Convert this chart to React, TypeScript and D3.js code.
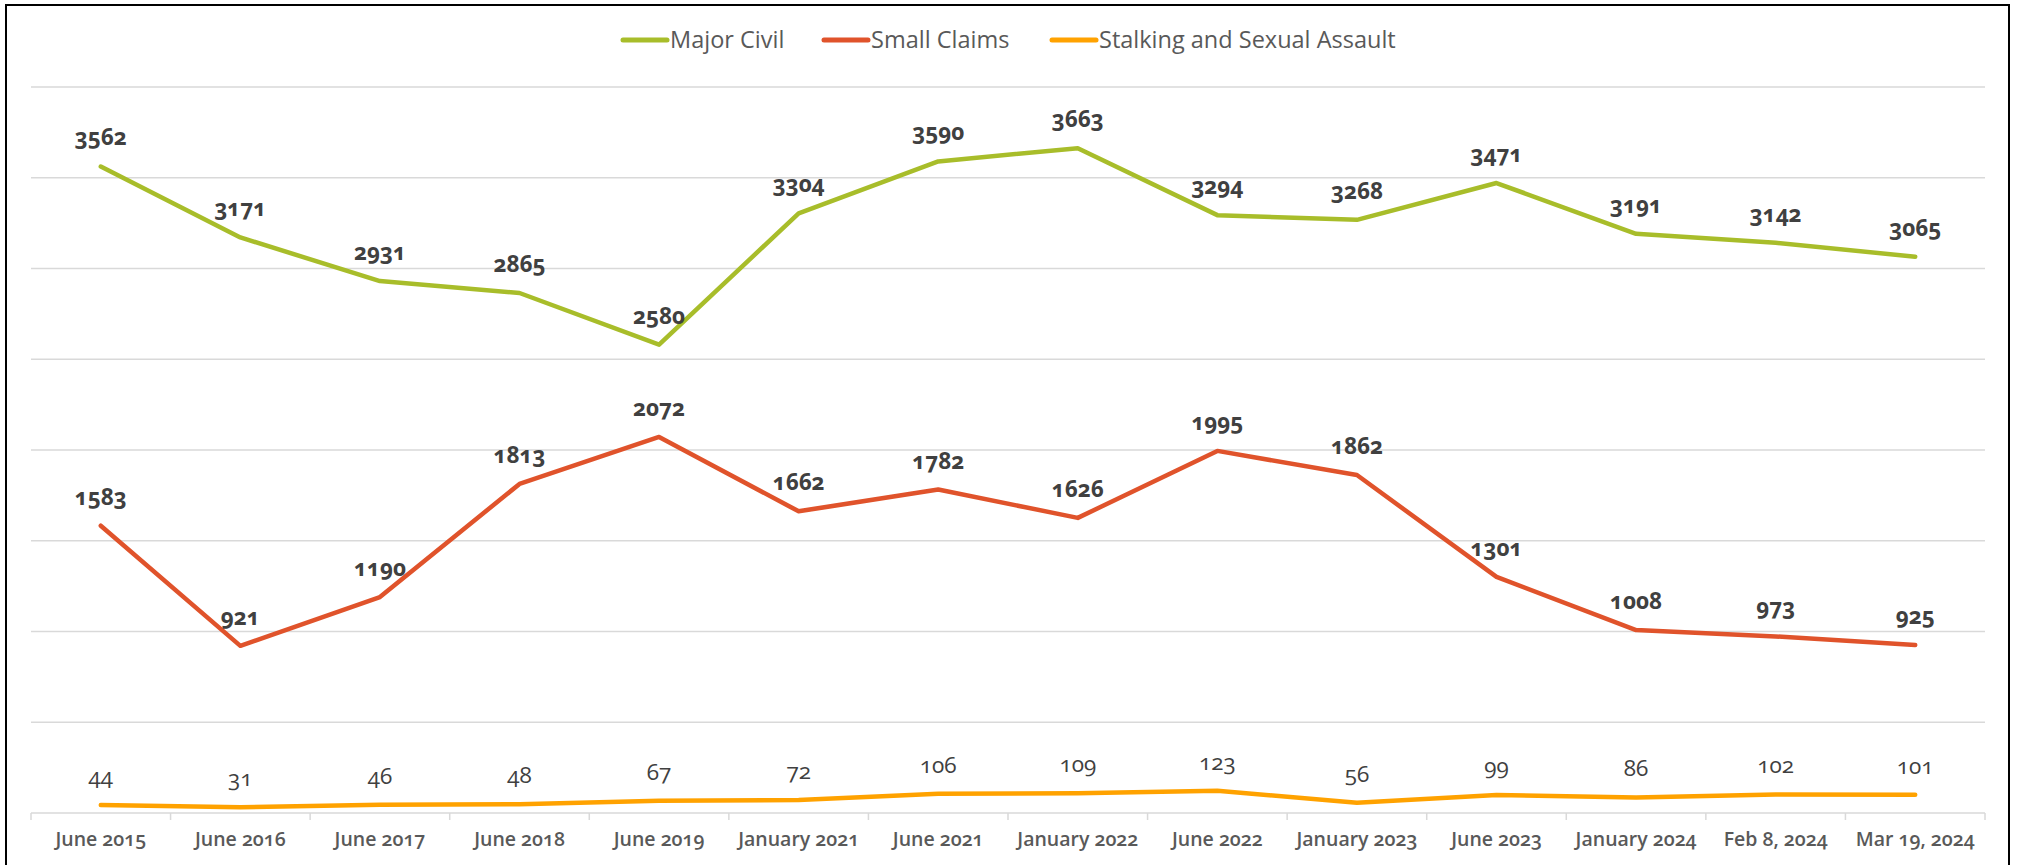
import React from 'react';
import * as d3 from 'd3';

const categories = [
  'June 2015', 'June 2016', 'June 2017', 'June 2018', 'June 2019',
  'January 2021', 'June 2021', 'January 2022', 'June 2022', 'January 2023',
  'June 2023', 'January 2024', 'Feb 8, 2024', 'Mar 19, 2024',
];
const majorCivil = [3562, 3171, 2931, 2865, 2580, 3304, 3590, 3663, 3294, 3268, 3471, 3191, 3142, 3065];
const smallClaims = [1583, 921, 1190, 1813, 2072, 1662, 1782, 1626, 1995, 1862, 1301, 1008, 973, 925];
const stalking = [44, 31, 46, 48, 67, 72, 106, 109, 123, 56, 99, 86, 102, 101];
const gridTicks = [0, 500, 1000, 1500, 2000, 2500, 3000, 3500, 4000];

const series = [
  { name: 'Major Civil', values: majorCivil, color: '#a8bd2a', bold: true },
  { name: 'Small Claims', values: smallClaims, color: '#e0532b', bold: true },
  { name: 'Stalking and Sexual Assault', values: stalking, color: '#ffa200', bold: false },
];

const W = 2017;
const H = 865;
const margin = { top: 87, right: 32, bottom: 52, left: 31 };
const FONT = '"Open Sans", sans-serif';

export default function App() {
  const x = d3.scaleBand().domain(categories).range([margin.left, W - margin.right]);
  const y = d3.scaleLinear().domain([0, 4000]).range([H - margin.bottom, margin.top]);
  const cx = (c: string) => (x(c) ?? 0) + x.bandwidth() / 2;
  const line = d3.line<number>()
    .x((_, i) => cx(categories[i]))
    .y(d => y(d));

  // legend layout
  const legendX = [621, 822, 1050];
  const legendY = 40;

  return (
    <svg width={W} height={H} style={{ position: 'absolute', left: 0, top: 0, background: '#fff' }}
      fontFamily={FONT}>
      <rect x={6} y={5} width={2003} height={863} fill="#fff" stroke="#000" strokeWidth={2} />

      {gridTicks.slice(1).map(t => (
        <line key={t} x1={margin.left} x2={W - margin.right} y1={y(t)} y2={y(t)}
          stroke="#d9d9d9" strokeWidth={1.5} />
      ))}
      {/* x axis */}
      <line x1={margin.left} x2={W - margin.right} y1={y(0)} y2={y(0)} stroke="#d9d9d9" strokeWidth={1.5} />
      {[...categories.map(c => x(c) ?? 0), W - margin.right].map((t, i) => (
        <line key={i} x1={t} x2={t} y1={y(0)} y2={y(0) + 7} stroke="#d9d9d9" strokeWidth={1.5} />
      ))}
      {categories.map(c => (
        <text key={c} x={cx(c)} y={846} textAnchor="middle" fontSize={19.5} fontWeight={600}
          fill="#595959" style={{ fontVariantNumeric: 'oldstyle-nums' }}>{c}</text>
      ))}

      {series.map(s => (
        <g key={s.name}>
          <path d={line(s.values) ?? ''} fill="none" stroke={s.color} strokeWidth={4.5}
            strokeLinecap="round" strokeLinejoin="round" />
          {s.values.map((v, i) => (
            <text key={i} x={cx(categories[i])} y={y(v) - 21} textAnchor="middle"
              fontSize={22.5} fontWeight={s.bold ? 700 : 400} fill="#404040"
              style={{ fontVariantNumeric: 'oldstyle-nums' }}>{v}</text>
          ))}
        </g>
      ))}

      {series.map((s, i) => (
        <g key={s.name} transform={`translate(${legendX[i]},${legendY})`}>
          <line x1={2} x2={46} y1={0} y2={0} stroke={s.color} strokeWidth={5} strokeLinecap="round" />
          <text x={49} y={8} fontSize={23.5} fill="#595959">{s.name}</text>
        </g>
      ))}
    </svg>
  );
}
